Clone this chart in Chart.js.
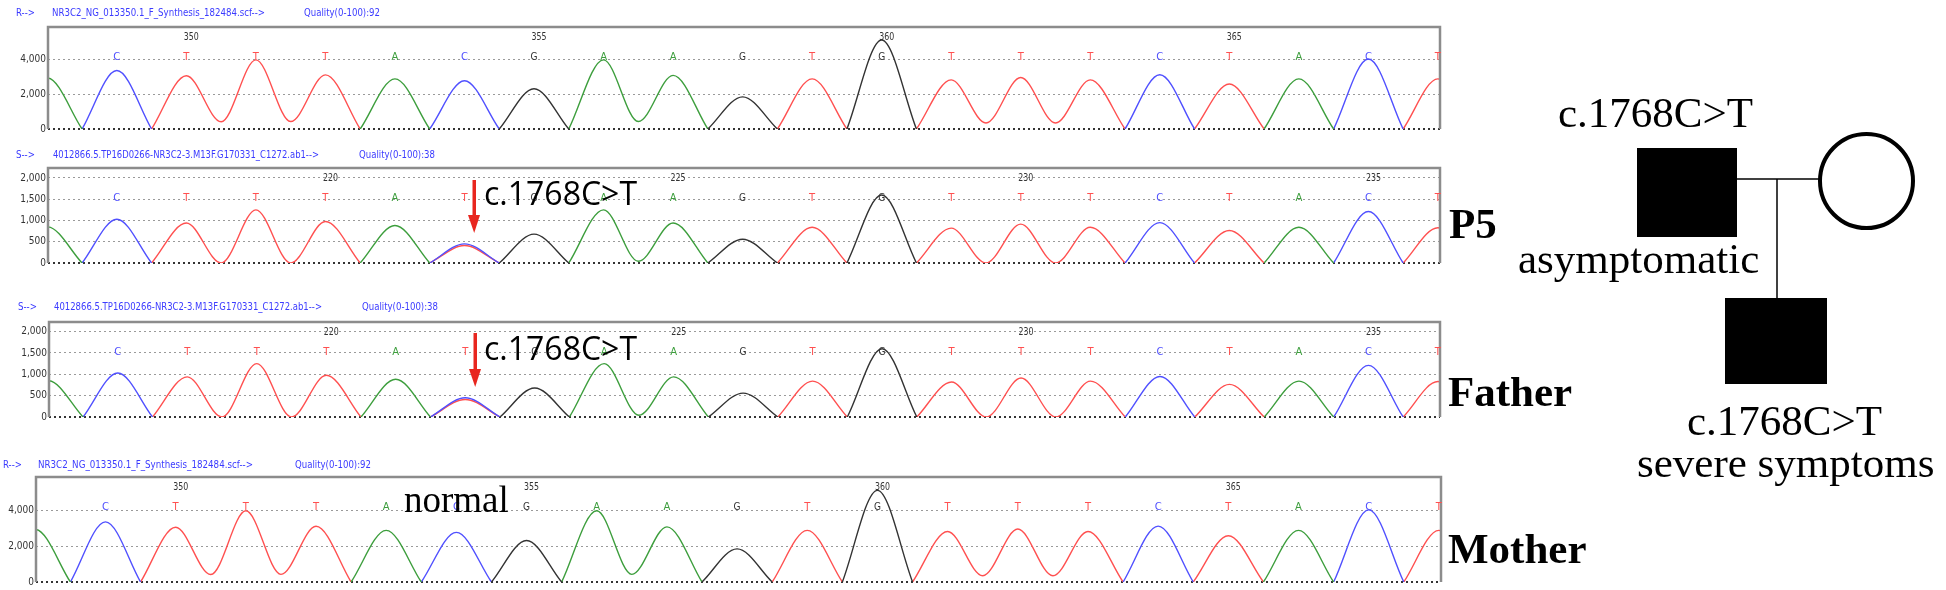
<!DOCTYPE html>
<html>
<head>
<meta charset="utf-8">
<script src="https://cdn.jsdelivr.net/npm/chart.js@4.4.1/dist/chart.umd.min.js"></script>
<style>
  body { margin: 0; background: #fff; width: 1946px; height: 590px; overflow: hidden; position: relative; }
  canvas { position: absolute; left: 0; }
  svg { position: absolute; left: 0; top: 0; }
</style>
</head>
<body>
<canvas id="p1" width="1946" height="140" style="top:0px"></canvas>
<canvas id="p2" width="1946" height="150" style="top:140px"></canvas>
<canvas id="p3" width="1946" height="150" style="top:290px"></canvas>
<canvas id="p4" width="1946" height="150" style="top:440px"></canvas>

<svg width="1946" height="590">
  <!-- mutation marks on the chromatograms -->
  <g fill="#e8261f">
    <rect x="472.5" y="180" width="3.5" height="37"/>
    <polygon points="468,215 480,215 474.2,233"/>
    <rect x="473.5" y="333" width="3.5" height="37"/>
    <polygon points="469,369 481,369 475.2,387"/>
  </g>
  <g font-family="'Open Sans','Noto Sans',sans-serif" font-size="32" fill="#000">
    <text x="484" y="205">c.1768C&gt;T</text>
    <text x="484" y="360">c.1768C&gt;T</text>
  </g>
  <text x="404" y="512" font-family="'Liberation Serif','Times New Roman',serif" font-size="37">normal</text>

  <g font-family="'Liberation Serif','Times New Roman',serif" font-weight="bold" font-size="43" fill="#000">
    <text x="1449" y="238">P5</text>
    <text x="1448" y="406">Father</text>
    <text x="1448" y="563">Mother</text>
  </g>

  <!-- pedigree -->
  <line x1="1737" y1="179" x2="1822" y2="179" stroke="#000" stroke-width="1.5"/>
  <line x1="1777" y1="179" x2="1777" y2="299" stroke="#000" stroke-width="1.5"/>
  <rect x="1637" y="148" width="100" height="89" fill="#000"/>
  <rect x="1725" y="298" width="102" height="86" fill="#000"/>
  <ellipse cx="1866.5" cy="181" rx="46.5" ry="47" fill="#fff" stroke="#000" stroke-width="4"/>
  <g font-family="'Liberation Serif','Times New Roman',serif" font-size="43" fill="#000">
    <text x="1558" y="127">c.1768C&gt;T</text>
    <text x="1518" y="273">asymptomatic</text>
    <text x="1687" y="435">c.1768C&gt;T</text>
    <text x="1637" y="477">severe symptoms</text>
  </g>
</svg>

<script>
// reference trace (NR3C2 synthesis scf), first entry is the partial peak left of the window
const refBases = ["A", "C", "T", "T", "T", "A", "C", "G", "A", "A", "G", "T", "G", "T", "T", "T", "C", "T", "A", "C", "T"];
const refPeaks = [2950, 3380, 3080, 4000, 3130, 2900, 2790, 2330, 4000, 3100, 1860, 2900, 5150, 2840, 2980, 2840, 3140, 2600, 2900, 4050, 2900];
const refValleys = [0, 0, 420, 430, 0, 0, 0, 0, 430, 0, 0, 0, 0, 350, 350, 0, 0, 0, 0, 0];
const refPosLabels = ["350", "355", "360", "365"];
const refPosIdx = [1, 6, 11, 16];
const refTicks = [0, 2000, 4000];

// patient / father trace (ab1), heterozygous C/T at call 5
const mutBases = ["A", "C", "T", "T", "T", "A", "T", "G", "A", "A", "G", "T", "G", "T", "T", "T", "C", "T", "A", "C", "T"];
const mutPeaks = [850, 1030, 940, 1250, 977, 883, 410, 680, 1250, 940, 560, 840, 1600, 820, 914, 840, 950, 765, 840, 1210, 830];
const mutValleys = [0, 0, 0, 0, 0, 0, 0, 0, 40, 0, 0, 0, 0, 0, 0, 0, 0, 0, 0, 0];
const mutAltBases = ["C"];
const mutAltIdx = [5];
const mutAltPeaks = [450];
const mutPosLabels = ["220", "225", "230", "235"];
const mutPosIdx = [3, 8, 13, 18];
const mutTicks = [0, 500, 1000, 1500, 2000];

const baseColors = { A: "#3d9e3d", C: "#5050ff", G: "#333333", T: "#ff5050" };
const tickFont = "'DejaVu Sans Condensed','Liberation Sans Narrow','Arial Narrow','DejaVu Sans',sans-serif";

function buildTraces(bases, peaks, valleys, altBases, altIdx, altPeaks) {
  const list = bases.map((b, i) => ({ b, x: i - 1, y: peaks[i] }));
  altBases.forEach((b, k) => list.push({ b, x: altIdx[k], y: altPeaks[k] }));
  return ["G", "A", "C", "T"].map((b) => {
    const own = list.filter((p) => p.b === b).sort((p, q) => p.x - q.x);
    const data = [];
    own.forEach((p, k) => {
      const prev = own[k - 1];
      const next = own[k + 1];
      if (!prev || prev.x !== p.x - 1) {
        if (data.length) data.push({ x: p.x - 0.5, y: null });
        data.push({ x: p.x - 0.5, y: 0 });
      }
      data.push({ x: p.x, y: p.y });
      data.push({ x: p.x + 0.5, y: next && next.x === p.x + 1 ? valleys[p.x + 1] : 0 });
    });
    return {
      data,
      borderColor: baseColors[b],
      borderWidth: 1.4,
      pointRadius: 0,
      cubicInterpolationMode: "monotone",
      spanGaps: false,
    };
  });
}

// draws the frame, header line, position numbers and base calls
const seqText = {
  id: "seqText",
  afterDatasetsDraw(chart, args, o) {
    const { ctx, chartArea: { left, right, top, bottom }, scales: { x } } = chart;
    ctx.save();
    ctx.strokeStyle = "#8c8c8c";
    ctx.lineWidth = 2.5;
    ctx.beginPath();
    ctx.moveTo(left, bottom);
    ctx.lineTo(left, top);
    ctx.lineTo(right, top);
    ctx.lineTo(right, bottom);
    ctx.stroke();

    ctx.textAlign = "center";
    ctx.textBaseline = "middle";
    ctx.font = "10px 'DejaVu Sans', sans-serif";
    ctx.fillStyle = "#333";
    o.posIdx.forEach((p, k) => {
      ctx.fillText(o.posLabels[k], x.getPixelForValue(p) + 5, top + 10, 15);
    });
    o.calls.forEach((b, i) => {
      if (i === 0) return;
      ctx.fillStyle = baseColors[b];
      ctx.fillText(b, x.getPixelForValue(i - 1), top + 30, 7);
    });

    ctx.textAlign = "left";
    ctx.fillStyle = "#3b3bff";
    o.header.forEach((h) => ctx.fillText(h[0], h[1], o.headerY, h[2]));
    ctx.restore();
  },
};

const panels = [
  { id: "p1", left: 48, right: 1440, padTop: 27, padBottom: 11, max: 5900, headerY: 13,
    bases: refBases, peaks: refPeaks, valleys: refValleys, alt: [[], [], []],
    ticks: refTicks, posLabels: refPosLabels, posIdx: refPosIdx,
    header: [["R-->", 16, 19], ["NR3C2_NG_013350.1_F_Synthesis_182484.scf-->", 52, 213], ["Quality(0-100):92", 304, 76]] },
  { id: "p2", left: 48, right: 1440, padTop: 28, padBottom: 27, max: 2235, headerY: 15,
    bases: mutBases, peaks: mutPeaks, valleys: mutValleys, alt: [mutAltBases, mutAltIdx, mutAltPeaks],
    ticks: mutTicks, posLabels: mutPosLabels, posIdx: mutPosIdx,
    header: [["S-->", 16, 19], ["4012866.5.TP16D0266-NR3C2-3.M13F.G170331_C1272.ab1-->", 53, 266], ["Quality(0-100):38", 359, 76]] },
  { id: "p3", left: 49, right: 1440, padTop: 32, padBottom: 23, max: 2225, headerY: 17,
    bases: mutBases, peaks: mutPeaks, valleys: mutValleys, alt: [mutAltBases, mutAltIdx, mutAltPeaks],
    ticks: mutTicks, posLabels: mutPosLabels, posIdx: mutPosIdx,
    header: [["S-->", 18, 19], ["4012866.5.TP16D0266-NR3C2-3.M13F.G170331_C1272.ab1-->", 54, 268], ["Quality(0-100):38", 362, 76]] },
  { id: "p4", left: 36, right: 1441, padTop: 37, padBottom: 8, max: 5900, headerY: 25,
    bases: refBases, peaks: refPeaks, valleys: refValleys, alt: [[], [], []],
    ticks: refTicks, posLabels: refPosLabels, posIdx: refPosIdx,
    header: [["R-->", 3, 19], ["NR3C2_NG_013350.1_F_Synthesis_182484.scf-->", 38, 215], ["Quality(0-100):92", 295, 76]] },
];

panels.forEach((p) => {
  new Chart(document.getElementById(p.id), {
    type: "line",
    data: { datasets: buildTraces(p.bases, p.peaks, p.valleys, p.alt[0], p.alt[1], p.alt[2]) },
    options: {
      responsive: false,
      animation: false,
      layout: { padding: { left: 0, right: 1946 - p.right, top: p.padTop, bottom: p.padBottom } },
      scales: {
        x: { type: "linear", min: -0.99, max: 19.03, display: false },
        y: {
          min: 0,
          max: p.max,
          afterFit: (s) => { s.width = p.left; },
          afterBuildTicks: (s) => { s.ticks = p.ticks.map((v) => ({ value: v })); },
          grid: {
            drawTicks: false,
            color: (c) => (c.tick && c.tick.value === 0 ? "#333" : "#9a9a9a"),
            lineWidth: (c) => (c.tick && c.tick.value === 0 ? 2 : 1),
          },
          border: { display: false, dash: [2, 3] },
          ticks: { padding: 2, color: "#333", font: { family: tickFont, size: 10 } },
        },
      },
      plugins: {
        legend: { display: false },
        tooltip: { enabled: false },
        seqText: { calls: p.bases, posLabels: p.posLabels, posIdx: p.posIdx, header: p.header, headerY: p.headerY },
      },
    },
    plugins: [seqText],
  });
});
</script>
</body>
</html>
